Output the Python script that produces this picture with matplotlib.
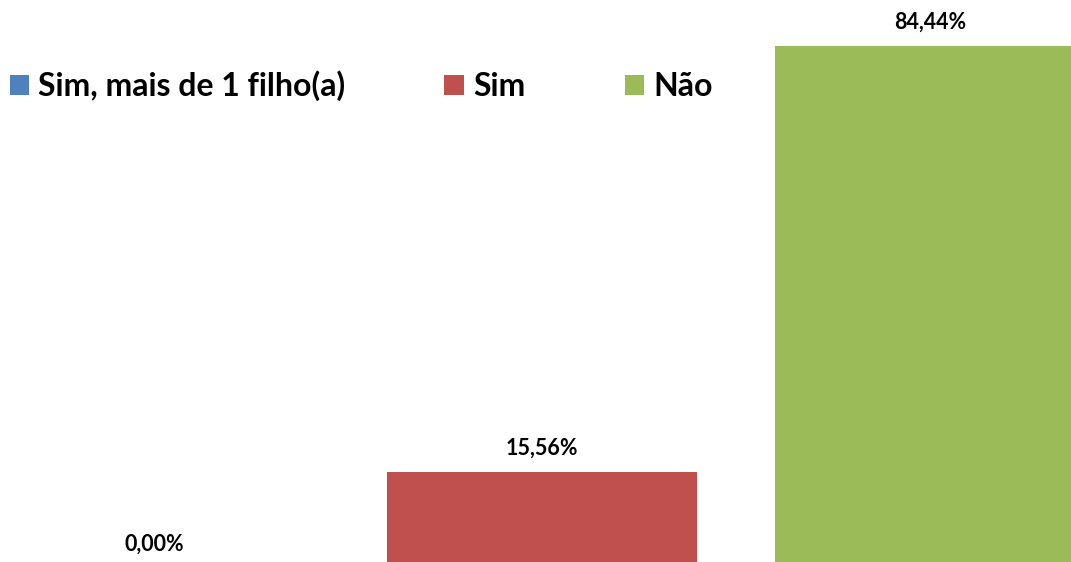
import matplotlib
matplotlib.use("Agg")
import matplotlib.pyplot as plt

categories = ["Sim, mais de 1 filho(a)", "Sim", "Não"]
values = [0.00, 15.56, 84.44]
labels = ["0,00%", "15,56%", "84,44%"]
colors = ["#4F81BD", "#C0504D", "#9BBB59"]

plt.rcParams['font.family'] = ['Lato', 'DejaVu Sans']

fig = plt.figure(figsize=(10.71, 5.62), dpi=100)
ax = fig.add_axes([0, 0, 1, 1])
x = list(range(len(categories)))
bars = ax.bar(x, values, width=0.8, color=colors)
ax.set_xlim(-0.397, 2.363)
ax.set_ylim(0.97, 91.9)
ax.axis('off')

for xi, v, lab in zip(x, values, labels):
    ax.annotate(lab, (xi, v), xytext=(0, 17.3), textcoords='offset points',
                ha='center', va='center', fontsize=15.5, fontweight='bold', color='black',
                annotation_clip=False)

leg = fig.legend(bars, categories, loc='center left', bbox_to_anchor=(0.0, 1 - 86/562),
                 ncol=3, frameon=False, prop={'weight': 'bold', 'size': 23},
                 handlelength=0.6, handleheight=0.6, handletextpad=0.3,
                 columnspacing=3.1, borderaxespad=0, borderpad=0.3)

fig.savefig("out.png", dpi=100)
